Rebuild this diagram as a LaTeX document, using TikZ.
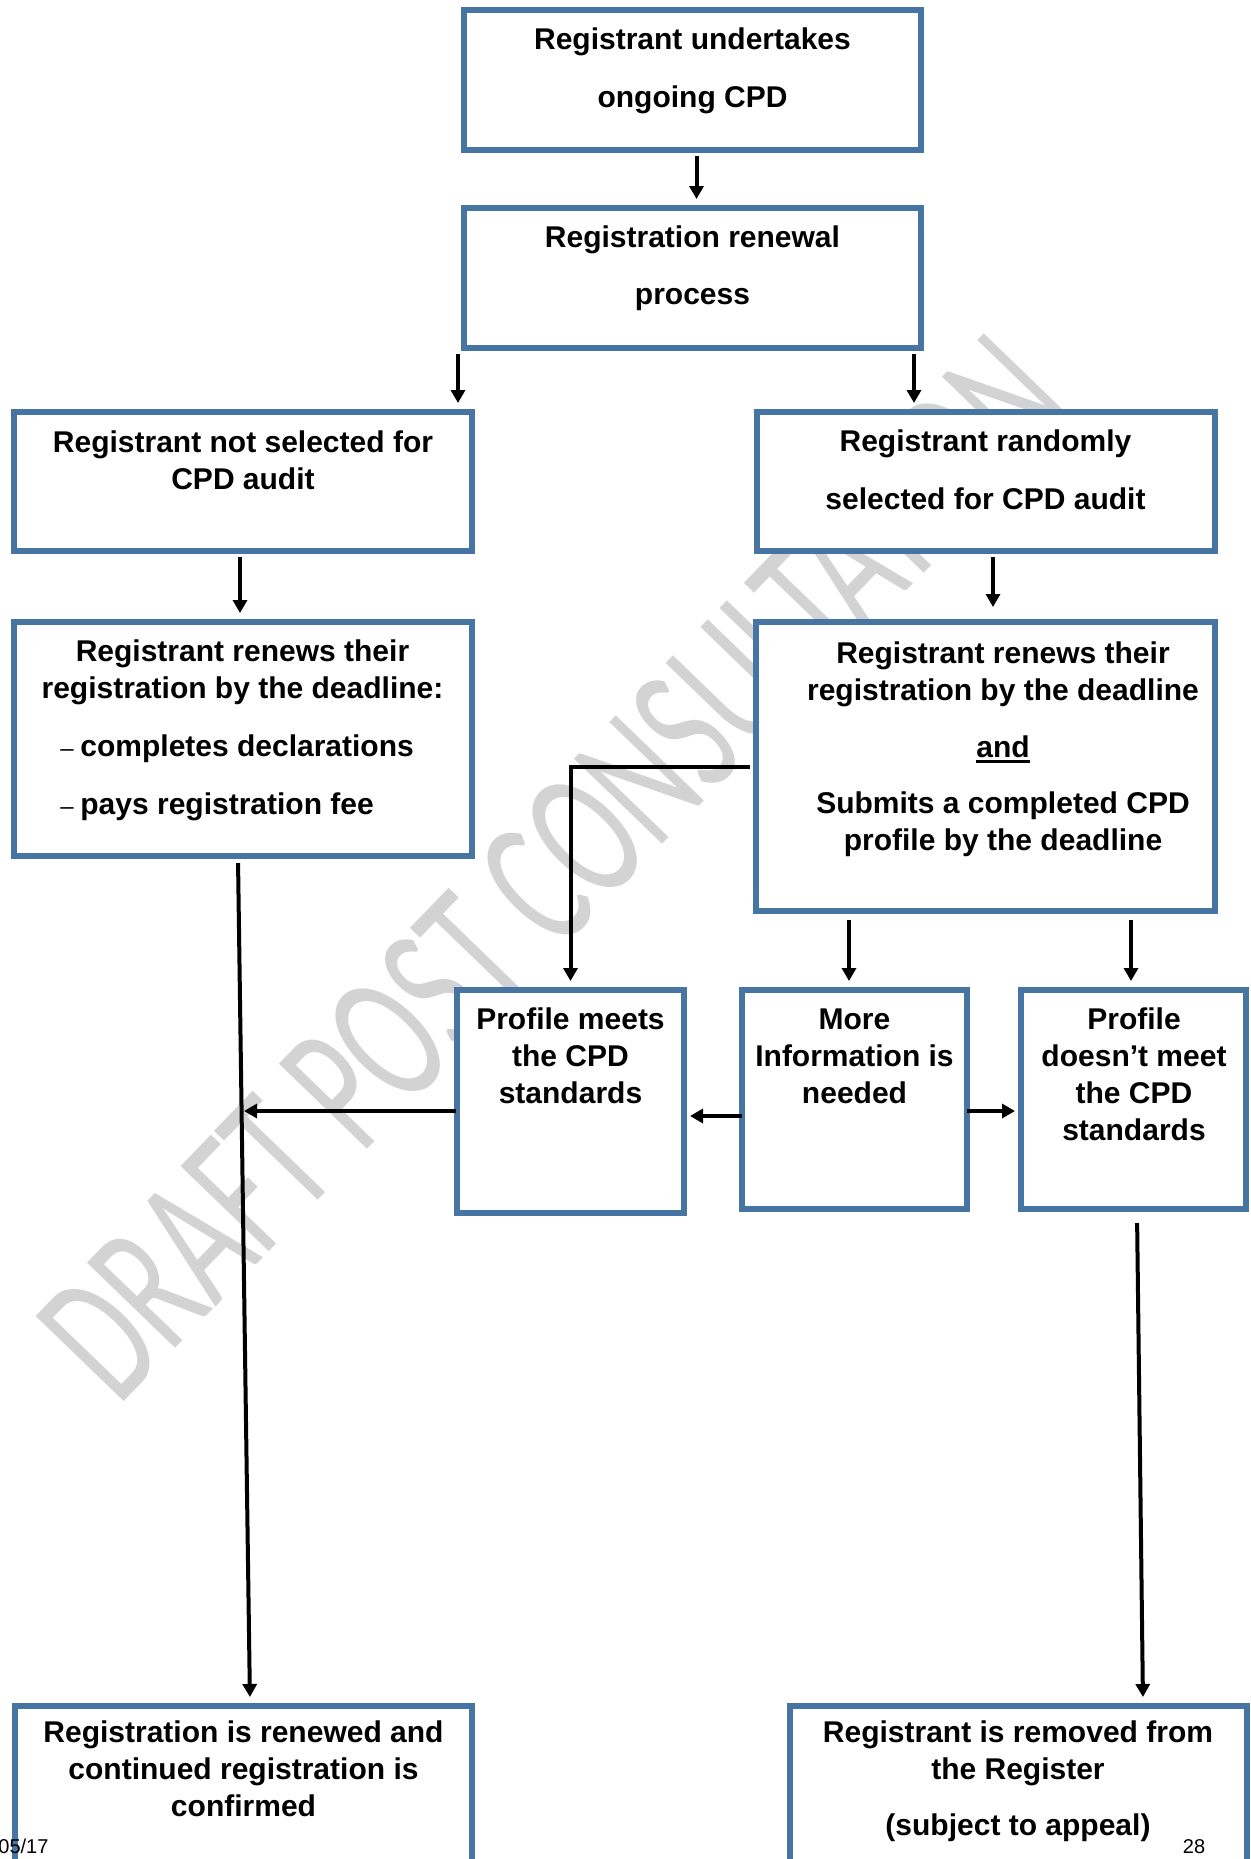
\documentclass[tikz,border=0pt]{standalone}
\usepackage{fontspec}
\setmainfont{Liberation Sans}
\newfontfamily\wmfont{Carlito}
\usetikzlibrary{arrows.meta,calc}
\definecolor{boxblue}{RGB}{70,117,163}
\definecolor{wmgray}{RGB}{211,211,211}
\newcommand{\myul}[1]{\leavevmode\vtop{\hbox{#1}\kern1.2pt\hrule height 1.6pt}}
\newcommand{\dashitem}{\makebox[10pt][l]{\mdseries\fontsize{12pt}{12pt}\selectfont –}}
\begin{document}
\begin{tikzpicture}[x=0.5pt,y=-0.5pt,
  box/.style={draw=boxblue, line width=3pt, fill=white, rectangle, inner sep=0pt},
  txt/.style={font=\fontsize{15pt}{18.5pt}\selectfont\bfseries, align=center, inner sep=0pt, anchor=base},
  arr/.style={draw=black, line width=2pt, -{Triangle[width=7pt,length=6.5pt]}, shorten <=1.5pt, shorten >=3pt},
  foot/.style={font=\fontsize{10pt}{12pt}\selectfont, inner sep=0pt}
  ]
\useasboundingbox (0,0) rectangle (1251,1859);
\clip (0,0) rectangle (1251,1859);

% watermark
\node[anchor=base west, rotate=46, inner sep=0pt, text=wmgray,
      font=\wmfont\fontsize{95.5pt}{100pt}\selectfont] (wm) at (118,1408)
      {\scalebox{0.63}[1]{DRAFT POST CONSULTATION}};

% boxes
\node[box, minimum width=228.5pt, minimum height=70pt]   (b1)  at (692.5,80) {};
\node[box, minimum width=228.5pt, minimum height=70pt]   (b2)  at (692.5,278) {};
\node[box, minimum width=229pt,   minimum height=69.5pt] (b3)  at (243,481.5) {};
\node[box, minimum width=229pt,   minimum height=69.5pt] (b4)  at (986,481.5) {};
\node[box, minimum width=229pt,   minimum height=117pt]  (b5)  at (243,739) {};
\node[box, minimum width=229.5pt, minimum height=144.5pt](b6)  at (985.5,766.5) {};
\node[box, minimum width=113.5pt, minimum height=111.5pt](b7)  at (570.5,1101.5) {};
\node[box, minimum width=112.5pt, minimum height=109.5pt](b8)  at (854.5,1099.5) {};
\node[box, minimum width=112.5pt, minimum height=109.5pt](b9)  at (1133.5,1099.5) {};
\node[box, minimum width=228.5pt, minimum height=127pt]  (b10) at (243.5,1833) {};
\node[box, minimum width=228.5pt, minimum height=127pt]  (b11) at (1018.5,1833) {};

% texts (anchor = baseline of the last line)
\node[txt] (t1) at (692.5,107) {Registrant undertakes\\[10.5pt]ongoing CPD};
\node[txt] (t2) at (692.5,304) {Registration renewal\\[10pt]process};
\node[txt] (t3) at (243,489) {Registrant not selected for\\CPD audit};
\node[txt] (t4) at (985.5,509) {Registrant randomly\\[10.5pt]selected for CPD audit};
\node[txt] (t5) at (242.5,698) {Registrant renews their\\registration by the deadline:};
\node[txt, align=left, anchor=base west] (t5b) at (60,814)
  {\dashitem completes declarations\\[10.5pt]\dashitem pays registration fee};
\node[txt] (t6) at (1003,850) {Registrant renews their\\registration by the deadline\\[10pt]\myul{and}\\[9.5pt]Submits a completed CPD\\profile by the deadline};
\node[txt] (t7) at (570.5,1103) {Profile meets\\the CPD\\standards};
\node[txt] (t8) at (854.5,1103) {More\\Information is\\needed};
\node[txt] (t9) at (1134,1140) {Profile\\doesn’t meet\\the CPD\\standards};
\node[txt] (t10) at (243.5,1816) {Registration is renewed and\\continued registration is\\confirmed};
\node[txt] (t11) at (1018,1835) {Registrant is removed from\\the Register\\[9.5pt](subject to appeal)};

% connectors
\draw[arr] ($(b1.south)+(2pt,0)$) -- ($(b2.north)+(2pt,0)$);
\draw[arr] ($(b2.south west)+(-1.5pt,0)$) -- ($(b3.north -| b2.south west)+(-1.5pt,0)$);
\draw[arr] ($(b2.south east)+(-5pt,0)$) -- ($(b4.north -| b2.south east)+(-5pt,0)$);
\draw[arr] ($(b3.south)+(-1.5pt,0)$) -- ($(b5.north)+(-1.5pt,0)$);
\draw[arr, shorten >=6pt] ($(b4.south)+(3.5pt,0)$) -- ($(b6.north -| b4.south)+(3.5pt,0)$);
\draw[arr] (b6.west) -| (b7.north);
\draw[arr, shorten <=3pt] ($(b6.south -| b8.north)+(-2.75pt,0)$) -- ($(b8.north)+(-2.75pt,0)$);
\draw[arr, shorten <=3pt] ($(b6.south -| b9.north)+(-1.25pt,0)$) -- ($(b9.north)+(-1.25pt,0)$);
\draw[arr, shorten <=-1.5pt, shorten >=1.5pt] ($(b8.west)+(0,-8.25pt)$) -- ($(b7.east |- b8.west)+(0,-8.25pt)$);
\draw[arr, shorten <=-1.5pt, shorten >=1.5pt] ($(b8.east)+(0,-5.75pt)$) -- ($(b9.west |- b8.east)+(0,-5.75pt)$);
\coordinate (j) at (244,1111);
\draw[arr, shorten <=-1pt, shorten >=0pt] ($(b7.west)+(0,-4.75pt)$) -- (j);
\draw[arr, shorten <=2pt] ($(b5.south)+(-2.5pt,0)$) -- ($(b10.north)+(3.25pt,0)$);
\draw[arr, shorten <=5.5pt] ($(b9.south)+(1.75pt,0)$) -- ($(b11.north -| b9.south)+(4.75pt,0)$);

% footer
\node[foot, anchor=base west] (f1) at (-2,1853) {05/17};
\node[foot, anchor=base] (f2) at (1194,1853) {28};
\end{tikzpicture}
\end{document}
